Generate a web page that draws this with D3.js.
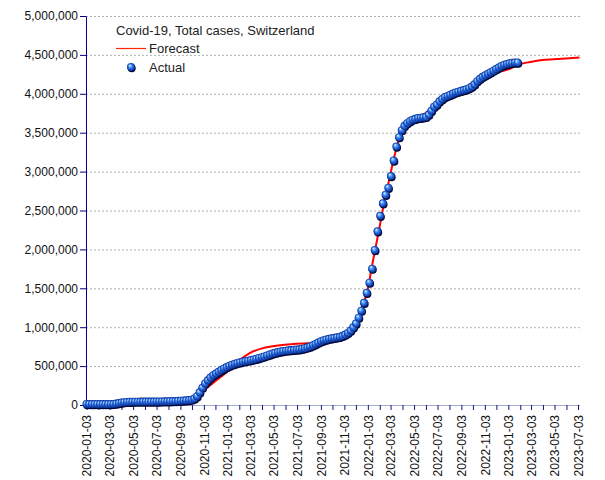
<!DOCTYPE html>
<html><head><meta charset="utf-8">
<script src="https://cdn.jsdelivr.net/npm/d3@7"></script>
<style>body{margin:0;background:#fff}svg{display:block}</style>
</head><body>
<svg id="c" width="605" height="480"></svg>
<script>
// ---- data ----
const titleText = "Covid-19, Total cases, Switzerland";
const legendLabels = ["Forecast", "Actual"];
const actualStart = "2020-01-03"; // weekly observations
const actualValues = [
0,0,0,0,0,0,0,0,20,300,
1200,5000,12000,19000,24000,27000,28500,29700,30100,30400,
30600,30800,31000,31100,31300,31600,32200,33000,33600,34500,
35200,36300,37400,39000,41000,43000,45700,48000,51000,56000,
70000,100000,150000,210000,265000,305000,340000,370000,392000,415000,
437000,457000,475000,492000,506000,518000,528000,537000,545000,551000,
557000,565000,573000,582000,592000,602000,612000,625000,637000,648000,
658000,667000,675000,681000,686000,690000,693000,696000,700000,704000,
710000,718000,728000,740000,755000,772000,790000,806000,820000,830000,
838000,845000,851000,857000,865000,876000,892000,914000,945000,985000,
1035000,1110000,1200000,1300000,1430000,1560000,1740000,1980000,2220000,2420000,
2580000,2690000,2780000,2930000,3130000,3310000,3430000,3520000,3575000,3610000,
3635000,3655000,3665000,3675000,3680000,3685000,3690000,3720000,3770000,3820000,
3850000,3890000,3920000,3945000,3960000,3975000,3990000,4005000,4015000,4025000,
4035000,4045000,4060000,4080000,4110000,4150000,4180000,4205000,4225000,4245000,
4265000,4285000,4305000,4325000,4345000,4360000,4370000,4380000,4385000,4390000,
4390000
];
const forecastDates = [
"2020-01-03","2020-09-05","2020-10-01","2020-11-01","2020-12-01","2021-01-01",
"2021-01-20","2021-02-10","2021-03-01","2021-04-01","2021-05-01","2021-06-01","2021-07-01",
"2021-08-01","2021-09-01","2021-10-01","2021-11-01","2021-11-15","2021-12-01",
"2021-12-15","2022-01-01","2022-01-15","2022-02-01","2022-02-15","2022-03-01",
"2022-03-15","2022-04-01","2022-04-15","2022-05-01","2022-06-01","2022-07-01",
"2022-08-01","2022-09-01","2022-10-01","2022-11-01","2022-12-01","2023-01-01",
"2023-02-01","2023-03-01","2023-04-01","2023-05-01","2023-06-01","2023-07-07"
];
const forecastValues = [
5000,5000,50000,180000,300000,420000,
510000,600000,665000,725000,755000,775000,788000,
793000,800000,815000,840000,900000,1020000,
1220000,1450000,1820000,2250000,2620000,2930000,
3240000,3500000,3600000,3660000,3750000,3860000,
3950000,4010000,4090000,4180000,4270000,4310000,
4380000,4410000,4435000,4445000,4455000,4465000
];
const yTicks = [0,500000,1000000,1500000,2000000,2500000,3000000,3500000,4000000,4500000,5000000];
const xTickLabels = ["2020-01-03","2020-03-03","2020-05-03","2020-07-03","2020-09-03","2020-11-03",
"2021-01-03","2021-03-03","2021-05-03","2021-07-03","2021-09-03","2021-11-03",
"2022-01-03","2022-03-03","2022-05-03","2022-07-03","2022-09-03","2022-11-03",
"2023-01-03","2023-03-03","2023-05-03","2023-07-03"];

// ---- chart ----
const parse = d3.utcParse("%Y-%m-%d");
const FONT = "'Liberation Sans', Arial, sans-serif";
const svg = d3.select("#c");
const pLeft = 86, pRight = 580, pTop = 16, pBottom = 405;

const x = d3.scaleUtc().domain([parse("2020-01-03"), parse("2023-07-03")]).range([86.5, 578]);
const y = d3.scaleLinear().domain([0, 5000000]).range([pBottom, pTop]);

const defs = svg.append("defs");
const g = defs.append("radialGradient").attr("id","ball")
  .attr("cx",0.5).attr("cy",0.5).attr("r",0.5).attr("fx",0.33).attr("fy",0.28);
[[0,"#eef8ff"],[0.22,"#8cc4ff"],[0.55,"#2f74e6"],[0.85,"#1446b8"],[1,"#0a2a80"]].forEach(s=>
  g.append("stop").attr("offset",s[0]).attr("stop-color",s[1]));

// gridlines
svg.append("g").selectAll("line").data(yTicks.filter(d=>d>0)).join("line")
  .attr("x1",pLeft).attr("x2",pRight).attr("y1",d=>y(d)+0.5).attr("y2",d=>y(d)+0.5)
  .attr("stroke","#b0b0b0").attr("stroke-dasharray","2,2");

// x axis: monthly ticks, labels every two months
const monthly = d3.utcMonth.range(parse("2020-01-01"), parse("2023-07-04")).map(d=>d3.utcDay.offset(d,2));
const labelSet = new Set(xTickLabels);
const fmt = d3.utcFormat("%Y-%m-%d");
const xAxis = svg.append("g").attr("transform",`translate(0,${pBottom})`)
  .call(d3.axisBottom(x).tickValues(monthly).tickSize(5).tickSizeOuter(0)
        .tickFormat(d=> labelSet.has(fmt(d)) ? fmt(d) : ""));
xAxis.select(".domain").attr("stroke","#a6aacb").attr("d",`M${pLeft},0.5H${pRight}`);
xAxis.selectAll(".tick line").attr("stroke","#101880");
xAxis.selectAll(".tick text")
  .attr("font-family",FONT).attr("font-size",12).attr("fill","#111")
  .attr("text-anchor","end").attr("transform","rotate(-90)")
  .attr("x",-10).attr("y",0).attr("dy","0.35em");

// y axis
const yAxis = svg.append("g").attr("transform",`translate(${pLeft},0)`)
  .call(d3.axisLeft(y).tickValues(yTicks).tickFormat(d3.format(",")).tickSize(6).tickSizeOuter(0));
yAxis.select(".domain").attr("stroke","#000080");
yAxis.selectAll(".tick line").attr("stroke","#000080");
yAxis.selectAll(".tick text").attr("font-family",FONT).attr("font-size",12).attr("fill","#111").attr("x",-8);

// forecast line
const fData = forecastDates.map((d,i)=>({date:parse(d), v:forecastValues[i]}));
svg.append("path").datum(fData)
  .attr("fill","none").attr("stroke","#ff0000").attr("stroke-width",2)
  .attr("d", d3.line().x(d=>x(d.date)).y(d=>y(d.v)).curve(d3.curveMonotoneX));

// actual points
const start = parse(actualStart);
const aData = actualValues.map((v,i)=>({date:d3.utcDay.offset(start, 7*i), v}));
const pts = svg.append("g");
pts.selectAll("circle.sh").data(aData).join("circle").attr("class","sh")
  .attr("cx",d=>x(d.date)+0.7).attr("cy",d=>y(d.v)-1+1.2).attr("r",4).attr("fill","#000838");
pts.selectAll("circle.b").data(aData).join("circle").attr("class","b")
  .attr("cx",d=>x(d.date)).attr("cy",d=>y(d.v)-1).attr("r",4).attr("fill","url(#ball)");

// legend
svg.append("text").attr("x",116).attr("y",35).attr("font-family",FONT).attr("font-size",13)
  .attr("fill","#222").text(titleText);
svg.append("line").attr("x1",116).attr("x2",146).attr("y1",48.5).attr("y2",48.5)
  .attr("stroke","#ff2a00").attr("stroke-width",1.2);
svg.append("text").attr("x",149).attr("y",53).attr("font-family",FONT).attr("font-size",13)
  .attr("fill","#222").text(legendLabels[0]);
svg.append("circle").attr("cx",131.7).attr("cy",68.2).attr("r",4).attr("fill","#000838");
svg.append("circle").attr("cx",131).attr("cy",67).attr("r",4).attr("fill","url(#ball)");
svg.append("text").attr("x",149).attr("y",71.5).attr("font-family",FONT).attr("font-size",13)
  .attr("fill","#222").text(legendLabels[1]);
</script>
</body></html>
